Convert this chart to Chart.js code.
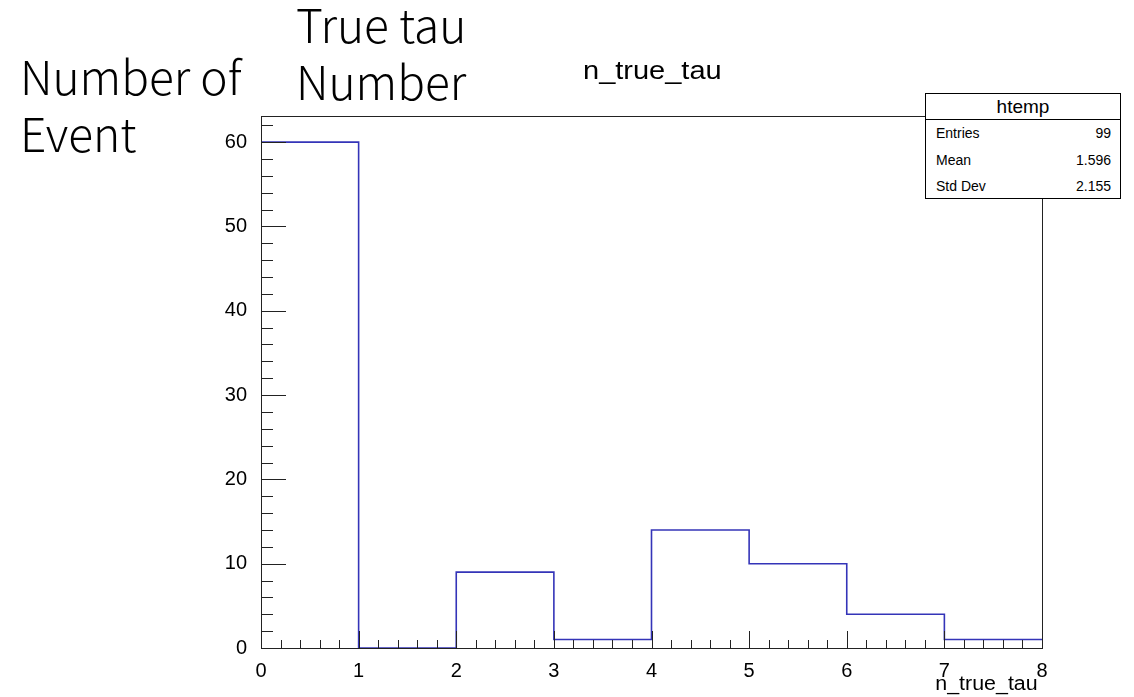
<!DOCTYPE html>
<html>
<head>
<meta charset="utf-8">
<script src="https://cdn.jsdelivr.net/npm/chart.js@4/dist/chart.umd.min.js"></script>
<style>
  body { margin: 0; background: #fff; }
  #wrap { position: relative; width: 1134px; height: 697px; overflow: hidden; }
  #myChart { position: absolute; left: 0; top: 0; }
  .note {
    position: absolute;
    font-family: "Noto Sans CJK JP", "Noto Sans", sans-serif;
    font-weight: 300;
    font-size: 46px;
    line-height: 57px;
    color: #000;
    white-space: nowrap;
  }
  .root {
    position: absolute;
    font-family: "Liberation Sans", Arial, sans-serif;
    color: #000;
    white-space: nowrap;
  }
  #title { left: 583px; top: 56px; font-size: 25px; transform: scaleX(1.16); transform-origin: left top; }
  #xtitle { right: 96px; top: 672px; font-size: 20px; transform: scaleX(1.07); transform-origin: right top; }
  #stats {
    position: absolute; left: 925px; top: 93px; width: 194px; height: 104px;
    border: 1px solid #000; background: #fff;
    font-family: "Liberation Sans", Arial, sans-serif; color: #000;
  }
  #stats .hdr { height: 25px; border-bottom: 1px solid #000; text-align: center; font-size: 19px; line-height: 25px; }
  #stats .row { display: flex; justify-content: space-between; padding: 0 9px 0 10px; font-size: 14px; height: 26.5px; line-height: 27px; }
</style>
</head>
<body>
<div id="wrap">
  <canvas id="myChart" width="1134" height="697"></canvas>
  <div class="note" style="left:296px; top:-5px;">True tau<br>Number</div>
  <div class="note" style="left:20px; top:47px;">Number of<br>Event</div>
  <div class="root" id="title">n_true_tau</div>
  <div class="root" id="xtitle">n_true_tau</div>
  <div id="stats"></div>
</div>
<script>
// histogram of n_true_tau (bin edges 0..8, one count per bin)
const binEdges = [0, 1, 2, 3, 4, 5, 6, 7, 8];
const counts = [60, 0, 9, 1, 14, 10, 4, 1];
const xTickValues = [0, 1, 2, 3, 4, 5, 6, 7, 8];
const yTickValues = [0, 10, 20, 30, 40, 50, 60];
const statLabels = ["Entries", "Mean", "Std Dev"];
const statValues = ["99", "1.596", "2.155"];
const histName = "htemp";

// stats box
const stats = document.getElementById("stats");
stats.innerHTML = '<div class="hdr">' + histName + "</div>";
statLabels.forEach((lab, i) => {
  const row = document.createElement("div");
  row.className = "row";
  row.innerHTML = "<span>" + lab + "</span><span>" + statValues[i] + "</span>";
  stats.appendChild(row);
});

// step points: each edge carries the count of the bin that starts there
let points = [];
binEdges.forEach((x, i) => {
  points.push({ x: x, y: counts[Math.min(i, counts.length - 1)] });
});

// ROOT style frame with inside ticks
const rootFrame = {
  id: "rootFrame",
  afterDatasetsDraw(chart) {
    const c = chart.ctx;
    const a = chart.chartArea;
    const xs = chart.scales.x;
    const ys = chart.scales.y;
    c.save();
    c.strokeStyle = "#222";
    c.lineWidth = 1;
    c.strokeRect(Math.round(a.left) + 0.5, Math.round(a.top) + 0.5,
      Math.round(a.right - a.left), Math.round(a.bottom - a.top));
    c.beginPath();
    // y ticks: major every 10, minor every 2
    for (let v = 0; v <= ys.max + 0.001; v += 2) {
      const py = Math.round(ys.getPixelForValue(v)) + 0.5;
      const len = v % 10 === 0 ? 25 : 12;
      c.moveTo(a.left, py);
      c.lineTo(a.left + len, py);
    }
    // x ticks: major every 1, minor every 0.2
    for (let k = 0; k <= 40; k++) {
      const v = k * 0.2;
      const px = Math.round(xs.getPixelForValue(v)) + 0.5;
      const len = k % 5 === 0 ? 17 : 8;
      c.moveTo(px, a.bottom);
      c.lineTo(px, a.bottom - len);
    }
    c.stroke();
    c.restore();
  }
};

var ctx = document.getElementById("myChart").getContext("2d");
var myChart = new Chart(ctx, {
  type: "line",
  data: {
    datasets: [
      {
        data: points,
        stepped: "before",
        borderColor: "#3434b8",
        borderWidth: 1.6,
        pointRadius: 0,
        fill: false,
        clip: false,
      },
    ],
  },
  options: {
    responsive: false,
    animation: false,
    layout: { padding: { left: 221, right: 92, top: 116, bottom: 0 } },
    plugins: { legend: { display: false }, tooltip: { enabled: false } },
    scales: {
      x: {
        type: "linear",
        min: 0,
        max: 8,
        grid: { display: false },
        border: { display: false },
        afterBuildTicks: (scale) => {
          scale.ticks = xTickValues.map((v) => ({ value: v }));
        },
        afterFit: (scale) => {
          scale.height = 49;
        },
        ticks: {
          padding: 3,
          color: "#000",
          maxRotation: 0,
          autoSkip: false,
          font: { family: "Liberation Sans", size: 20 },
        },
      },
      y: {
        min: 0,
        max: 63.1,
        grid: { display: false },
        border: { display: false },
        afterBuildTicks: (scale) => {
          scale.ticks = yTickValues.map((v) => ({ value: v }));
        },
        afterFit: (scale) => {
          scale.width = 40;
        },
        ticks: {
          padding: 6,
          color: "#000",
          font: { family: "Liberation Sans", size: 20 },
        },
      },
    },
  },
  plugins: [rootFrame],
});
</script>
</body>
</html>
